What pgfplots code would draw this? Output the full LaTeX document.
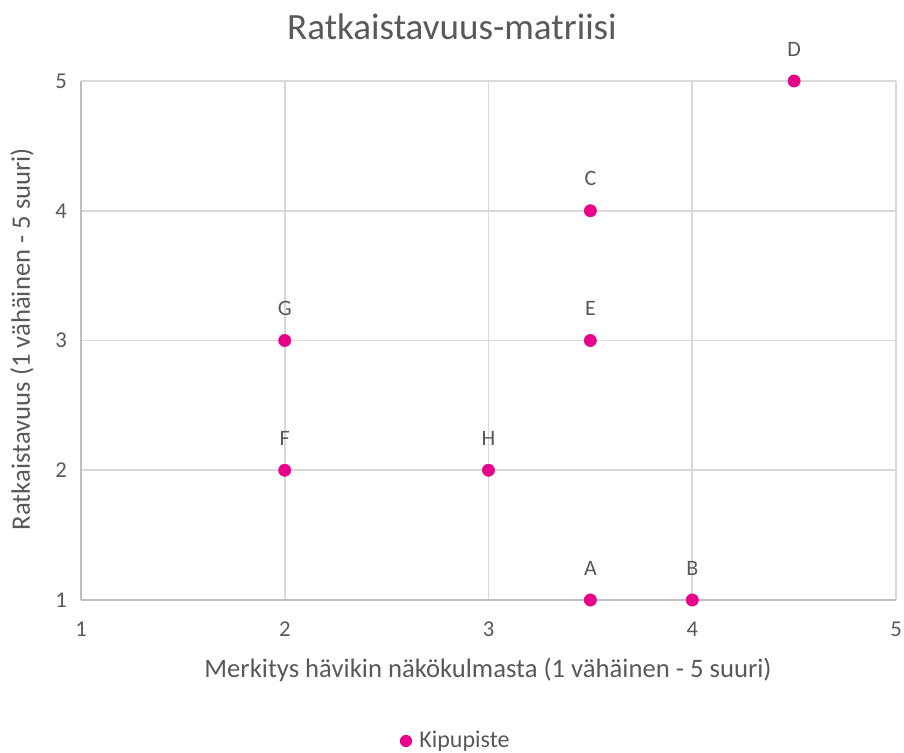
\documentclass[border=0pt]{standalone}
\usepackage{pgfplots}
\pgfplotsset{compat=1.18}
\usepackage{fontspec}
\setmainfont{Carlito}
\definecolor{txt}{HTML}{595959}
\definecolor{gridc}{HTML}{D9D9D9}
\definecolor{axc}{HTML}{BFBFBF}
\definecolor{pink}{HTML}{E8008A}
\begin{document}
\begin{tikzpicture}
\useasboundingbox (0pt,0pt) rectangle (678pt,564.75pt);
\begin{axis}[
  at={(60.75pt,114.75pt)}, anchor=south west,
  scale only axis, width=611.25pt, height=389.25pt,
  xmin=1, xmax=5, ymin=1, ymax=5,
  xtick={1,2,3,4,5}, ytick={1,2,3,4,5},
  grid=major, major grid style={draw=gridc, line width=1.4pt},
  axis x line*=bottom, axis y line*=left,
  axis line style={draw=axc, line width=1.4pt, -},
  tick style={draw=none},
  ticklabel style={font=\fontsize{17}{20}\selectfont, text=txt},
  /pgf/number format/assume math mode=true,
  xticklabel style={yshift=-13pt},
  yticklabel style={xshift=-7pt},
  clip=false,
]
\addplot[only marks, mark=*, mark size=4.6pt, color=pink,
  nodes near coords, point meta=explicit symbolic,
  every node near coord/.append style={font=\fontsize{16.5}{19}\selectfont, text=txt, anchor=center, yshift=24pt}]
  table[meta=lab] {
x y lab
3.5 1 A
4 1 B
3.5 4 C
4.5 5 D
3.5 3 E
2 2 F
2 3 G
3 2 H
};
\end{axis}
\node[font=\fontsize{27.8}{32}\selectfont, text=txt] at (339pt,545pt) {Ratkaistavuus-matriisi};
\node[font=\fontsize{20}{24}\selectfont, text=txt] at (366pt,62.25pt) {Merkitys hävikin näkökulmasta (1 vähäinen - 5 suuri)};
\node[font=\fontsize{20}{24}\selectfont, text=txt, rotate=90] at (16.5pt,310.5pt) {Ratkaistavuus (1 vähäinen - 5 suuri)};
\fill[pink] (304.5pt,9pt) circle (4.6pt);
\node[font=\fontsize{18}{21}\selectfont, text=txt, anchor=west] at (311pt,9pt) {Kipupiste};
\end{tikzpicture}
\end{document}
